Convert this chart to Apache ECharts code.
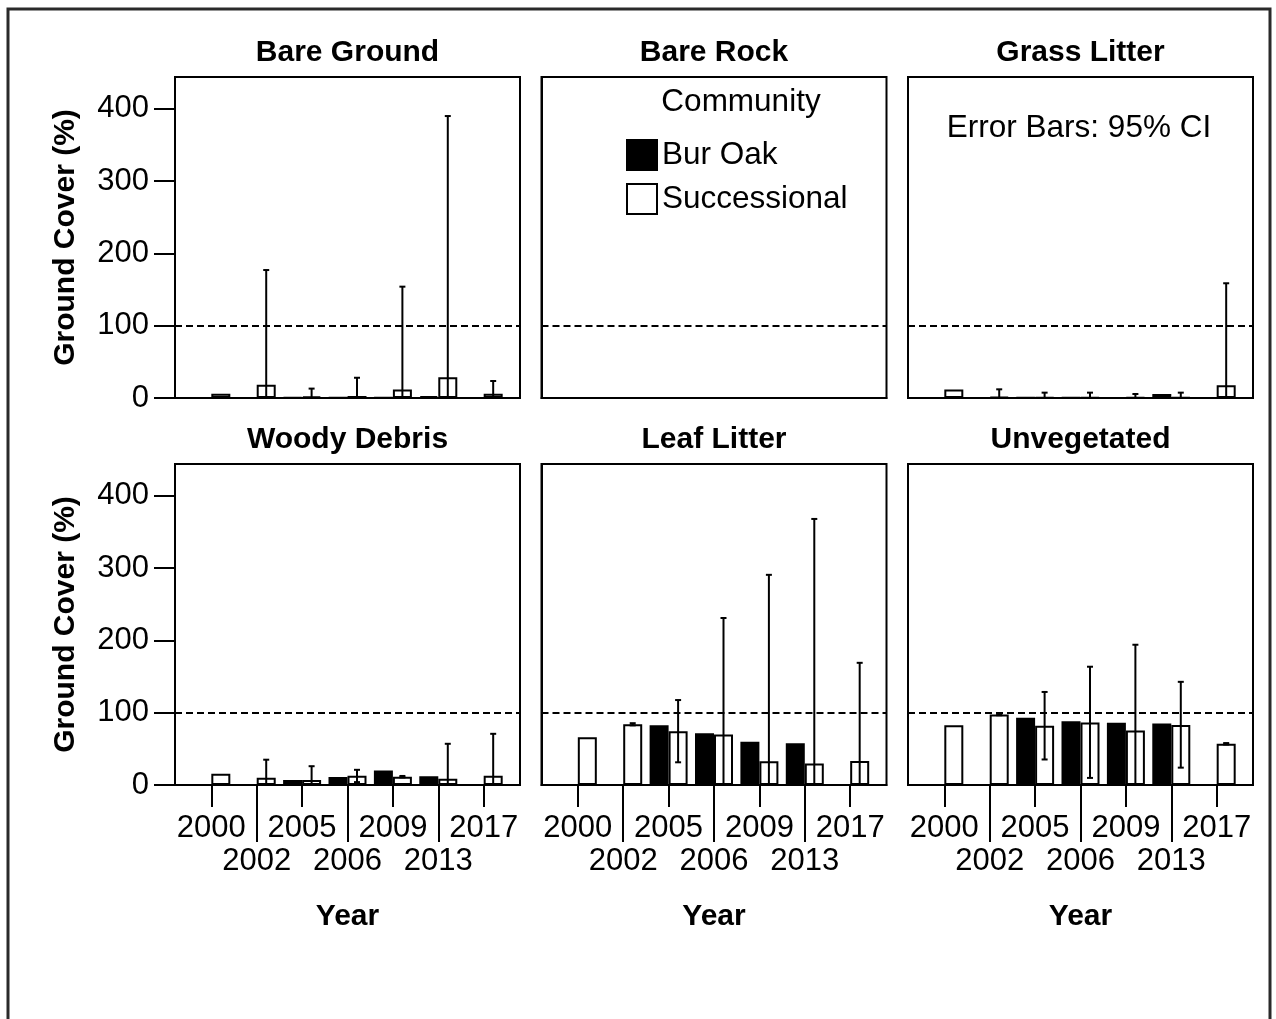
<!DOCTYPE html>
<html>
<head>
<meta charset="utf-8">
<script src="https://cdn.jsdelivr.net/npm/echarts@6/dist/echarts.min.js"></script>
<style>
  html, body { margin: 0; padding: 0; background: #fff; }
  #chart { width: 1276px; height: 1019px; }
</style>
</head>
<body>
<div id="chart"></div>
<script>
// Survey years (category positions 0..6 along each panel's x axis)
const years = ['2000', '2002', '2005', '2006', '2009', '2013', '2017'];
const panelTitles = ['Bare Ground', 'Bare Rock', 'Grass Litter', 'Woody Debris', 'Leaf Litter', 'Unvegetated'];
const seriesNames = ['Bur Oak', 'Successional'];
const yTicks = [0, 100, 200, 300, 400];

// Mean ground cover (%) per year; null = community not sampled that year
// Error bars (95% CI) belong to the Successional means.
const burOakBareGround       = [null, null, 1, 0.5, 0.5, 2.5, null];
const successionalBareGround = [6, 18.5, 2, 2.8, 11.6, 28.6, 6];
const ciLowBareGround        = [null, -140, -9, -22, -131, -333, -13.5];
const ciHighBareGround       = [null, 177, 13, 28, 154, 390, 23.5];

const burOakBareRock       = [null, null, 0, 0, 0, 0, null];
const successionalBareRock = [0, 0, 0, 0, 0, 0, 0];
const ciLowBareRock        = [null, null, null, null, null, null, null];
const ciHighBareRock       = [null, null, null, null, null, null, null];

const burOakGrassLitter       = [null, null, 0.5, 0.5, 0.3, 5.5, null];
const successionalGrassLitter = [11.6, 1.4, 1, 1, 1, 1, 17.6];
const ciLowGrassLitter        = [null, -9, -5.4, -5.4, -3.5, -5.4, -123];
const ciHighGrassLitter       = [null, 12, 7.4, 7.4, 5.5, 7.4, 158.7];

const burOakWoodyDebris       = [null, null, 7, 11, 20, 12, null];
const successionalWoodyDebris = [15.6, 10, 7, 12.8, 11.5, 8.7, 12.8];
const ciLowWoodyDebris        = [null, -15, -12, 4, 10.5, -40, -45];
const ciHighWoodyDebris       = [null, 35, 26, 21, 12.5, 57, 70.8];

const burOakLeafLitter       = [null, null, 82.8, 71.7, 59.7, 57.8, null];
const successionalLeafLitter = [66, 84, 74.4, 69.9, 32.8, 29.6, 33.3];
const ciLowLeafLitter        = [null, 82.5, 31.4, -91, -225, -309, -102];
const ciHighLeafLitter       = [null, 85.5, 117.5, 231, 290.7, 368, 169];

const burOakUnvegetated       = [null, null, 92.9, 88.3, 86, 85, null];
const successionalUnvegetated = [82.8, 97.6, 81.8, 86.5, 75.3, 83.1, 57.2];
const ciLowUnvegetated        = [null, 96.5, 35.3, 9.8, -43, 24, 56];
const ciHighUnvegetated       = [null, 98.5, 128.7, 163.6, 194, 142.7, 58];

const panels = [
  [burOakBareGround, successionalBareGround, ciLowBareGround, ciHighBareGround],
  [burOakBareRock, successionalBareRock, ciLowBareRock, ciHighBareRock],
  [burOakGrassLitter, successionalGrassLitter, ciLowGrassLitter, ciHighGrassLitter],
  [burOakWoodyDebris, successionalWoodyDebris, ciLowWoodyDebris, ciHighWoodyDebris],
  [burOakLeafLitter, successionalLeafLitter, ciLowLeafLitter, ciHighLeafLitter],
  [burOakUnvegetated, successionalUnvegetated, ciLowUnvegetated, ciHighUnvegetated]
];

// Layout
const FONT = "'Liberation Sans', Arial, Helvetica, sans-serif";
const LABEL_SIZE = 31;
const GRID_LEFT = [175, 541.5, 908];
const GRID_TOP = [77, 464];
const GRID_W = 345;
const GRID_H = 321;
const X_MIN = -0.8, X_MAX = 6.8;
const Y_MAX = 444;
const BAR_W = 19;
const CAP = 3;

const black = '#000';
const grids = [], xAxes = [], yAxes = [], series = [], graphics = [];

const yearLabel = v => years[Math.round(v)] || '';

panels.forEach((p, k) => {
  const row = Math.floor(k / 3), col = k % 3;
  const [bur, succ, lo, hi] = p;

  grids.push({
    left: GRID_LEFT[col], top: GRID_TOP[row], width: GRID_W, height: GRID_H,
    show: true, borderColor: black, borderWidth: 2, backgroundColor: 'transparent'
  });

  const baseX = {
    type: 'value', gridIndex: k, min: X_MIN, max: X_MAX, position: 'bottom',
    splitLine: { show: false },
    axisLine: { show: true, onZero: false, lineStyle: { color: black, width: 2 } }
  };

  const xi = xAxes.length;
  if (row === 0) {
    xAxes.push(Object.assign({}, baseX, {
      axisTick: { show: false }, axisLabel: { show: false }
    }));
  } else {
    // first label row with short ticks
    xAxes.push(Object.assign({}, baseX, {
      axisTick: { show: true, customValues: [0, 2, 4, 6], length: 22, lineStyle: { color: black, width: 2 } },
      axisLabel: { show: true, customValues: [0, 2, 4, 6], formatter: yearLabel, margin: 28,
                   fontSize: LABEL_SIZE, color: black, fontFamily: FONT },
      name: 'Year', nameLocation: 'middle', nameGap: 117,
      nameTextStyle: { fontSize: 30, fontWeight: 'bold', color: black, fontFamily: FONT }
    }));
    // second label row with long ticks
    xAxes.push(Object.assign({}, baseX, {
      axisLine: { show: false, onZero: false },
      axisTick: { show: true, customValues: [1, 3, 5], length: 57, lineStyle: { color: black, width: 2 } },
      axisLabel: { show: true, customValues: [1, 3, 5], formatter: yearLabel, margin: 61,
                   fontSize: LABEL_SIZE, color: black, fontFamily: FONT }
    }));
  }

  yAxes.push({
    type: 'value', gridIndex: k, min: 0, max: Y_MAX, interval: 100,
    splitLine: { show: false },
    axisLine: { show: true, onZero: false, lineStyle: { color: black, width: 2 } },
    axisTick: { show: col === 0, customValues: yTicks, length: 21, lineStyle: { color: black, width: 2 } },
    axisLabel: { show: col === 0, customValues: yTicks, margin: 26, fontSize: LABEL_SIZE, color: black, fontFamily: FONT },
    name: col === 0 ? 'Ground Cover (%)' : '',
    nameLocation: 'middle', nameGap: 94,
    nameTextStyle: { fontSize: 30, fontWeight: 'bold', color: black, fontFamily: FONT }
  });

  series.push({
    type: 'bar', name: seriesNames[0], xAxisIndex: xi, yAxisIndex: k,
    data: bur.map((v, i) => [i, v]),
    barWidth: BAR_W, barGap: '0%',
    itemStyle: { color: black, borderColor: black, borderWidth: 2 },
    emphasis: { disabled: true }, silent: true
  });
  series.push({
    type: 'bar', name: seriesNames[1], xAxisIndex: xi, yAxisIndex: k,
    data: succ.map((v, i) => [i, v]),
    barWidth: BAR_W, barGap: '0%',
    itemStyle: { color: '#fff', borderColor: black, borderWidth: 2 },
    emphasis: { disabled: true }, silent: true,
    markLine: {
      silent: true, symbol: ['none', 'none'], label: { show: false },
      lineStyle: { color: black, width: 2, type: [7, 4] },
      data: [{ yAxis: 100 }]
    }
  });

  const errData = [];
  hi.forEach((h, i) => { if (h != null) errData.push([i, lo[i], h]); });
  series.push({
    type: 'custom', name: 'ci', xAxisIndex: xi, yAxisIndex: k, z: 5, silent: true,
    encode: { x: 0, y: [1, 2] },
    data: errData,
    renderItem: (params, api) => {
      const x = api.value(0), l = api.value(1), h = api.value(2);
      const pTop = api.coord([x, h]);
      const below = l < 0;
      const pBot = api.coord([x, below ? 0 : l]);
      const cx = pTop[0] + BAR_W / 2;
      const st = { stroke: black, lineWidth: 2 };
      const children = [
        { type: 'line', shape: { x1: cx, y1: pTop[1], x2: cx, y2: pBot[1] }, style: st },
        { type: 'line', shape: { x1: cx - CAP, y1: pTop[1], x2: cx + CAP, y2: pTop[1] }, style: st }
      ];
      if (!below) {
        children.push({ type: 'line', shape: { x1: cx - CAP, y1: pBot[1], x2: cx + CAP, y2: pBot[1] }, style: st });
      }
      return { type: 'group', children };
    }
  });

  graphics.push({
    type: 'text', x: GRID_LEFT[col] + GRID_W / 2, y: GRID_TOP[row] - 24,
    style: { text: panelTitles[k], fontSize: 30, fontWeight: 'bold', fontFamily: FONT,
             fill: black, align: 'center', verticalAlign: 'middle' }
  });
});

// outer frame
graphics.push({
  type: 'rect', shape: { x: 8, y: 9, width: 1262, height: 1040 },
  style: { fill: 'none', stroke: '#2a2a2a', lineWidth: 3 }, z: -1
});
// legend heading and CI note
graphics.push({
  type: 'text', x: 741, y: 102,
  style: { text: 'Community', fontSize: 31.5, fontFamily: FONT, fill: black, align: 'center', verticalAlign: 'middle' }
});
graphics.push({
  type: 'text', x: 1079, y: 128,
  style: { text: 'Error Bars: 95% CI', fontSize: 31.5, fontFamily: FONT, fill: black, align: 'center', verticalAlign: 'middle' }
});

const chart = echarts.init(document.getElementById('chart'), null, { renderer: 'canvas' });
chart.setOption({
  animation: false,
  backgroundColor: '#fff',
  textStyle: { fontFamily: FONT },
  grid: grids,
  xAxis: xAxes,
  yAxis: yAxes,
  legend: {
    data: seriesNames, orient: 'vertical', left: 626, top: 139, padding: 0,
    itemWidth: 30, itemHeight: 30, itemGap: 12, icon: 'rect', selectedMode: false,
    textStyle: { fontSize: 31.5, color: black, fontFamily: FONT }
  },
  graphic: graphics,
  series: series
});
</script>
</body>
</html>
